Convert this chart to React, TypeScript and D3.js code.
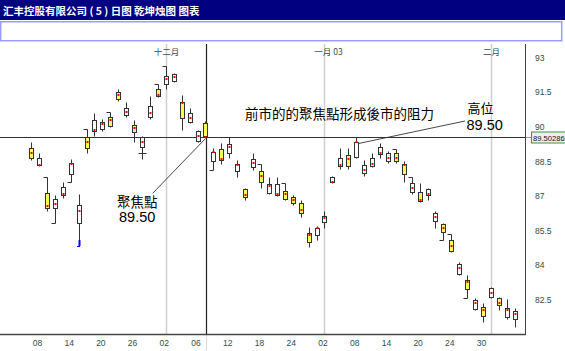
import React from "react";
import * as d3 from "d3";

const dates = [
  "11-07","11-08","11-11","11-12","11-13","11-14","11-15","11-18","11-19","11-20","11-21","11-22","11-25","11-26","11-27","11-28","11-29",
  "12-02","12-03","12-04","12-05","12-06","12-09","12-10","12-11","12-12","12-13","12-16","12-17","12-18","12-19","12-20","12-23","12-24","12-27","12-30","12-31",
  "01-02","01-03","01-06","01-07","01-08","01-09","01-10","01-13","01-14","01-15","01-16","01-17","01-20","01-21","01-22","01-23","01-24","01-27","01-28","01-29","01-30",
  "02-04","02-05","02-06","02-07",
];
const high = [89.26,88.78,87.74,86.96,87.53,88.52,87.01,89.83,90.52,90.26,90.56,91.56,91.0,90.22,89.52,91.26,91.78,92.56,92.25,91.3,90.74,89.78,90.17,89.0,89.22,89.48,88.48,87.27,88.78,88.31,87.74,87.74,87.48,86.96,86.75,85.57,85.62,86.27,87.79,89.0,89.0,89.5,88.48,88.78,89.22,88.87,88.96,88.44,87.74,87.48,87.27,86.27,85.75,85.27,84.06,83.49,82.49,82.28,82.97,82.54,82.45,82.06];
const low = [88.48,88.22,86.27,85.75,86.83,87.53,84.75,88.78,89.52,89.74,89.91,91.04,90.35,89.26,88.52,90.26,91.22,91.56,91.86,89.78,90.09,89.26,89.48,88.05,88.31,88.57,87.74,86.75,88.05,87.27,87.01,86.92,86.75,86.53,86.01,84.71,85.01,85.53,87.48,88.09,88.09,88.57,87.79,88.18,88.57,88.35,88.35,87.53,87.01,86.66,86.75,85.53,85.01,84.49,83.49,82.49,81.97,81.45,82.5,81.97,81.58,81.23];
const boxHigh = [89.0,88.57,87.05,86.79,87.31,88.35,86.53,89.48,90.22,90.13,90.35,91.43,90.74,90.0,89.48,90.82,91.56,92.12,92.21,91.0,90.52,89.74,90.09,88.83,88.96,89.17,88.31,87.22,88.52,88.0,87.44,87.44,87.14,86.88,86.62,85.31,85.53,86.05,87.74,88.57,88.7,89.26,88.26,88.57,89.04,88.78,88.78,88.31,87.48,87.09,87.22,86.18,85.7,85.01,83.97,83.27,82.41,82.1,82.93,82.49,82.06,81.93];
const boxLow = [88.57,88.26,86.4,86.4,86.96,87.87,85.75,89.0,89.74,89.83,89.96,91.13,90.43,89.7,89.04,90.35,91.26,91.78,91.91,90.3,90.13,89.3,89.52,88.44,88.48,88.78,88.0,86.88,88.18,87.53,87.05,86.96,86.79,86.62,86.18,84.92,85.23,85.79,87.53,88.22,88.22,88.61,87.92,88.22,88.74,88.44,88.44,87.87,87.09,86.7,86.96,85.83,85.36,84.53,83.54,82.88,82.02,81.71,82.56,82.19,81.67,81.58];
const midDot = [88.8,88.26,86.5,86.57,87.01,88.31,86.27,89.26,89.78,90.04,90.22,91.3,90.56,89.87,89.26,90.52,91.3,91.99,92.08,90.95,90.3,89.52,89.5,88.83,88.52,89.04,88.26,86.96,88.35,87.79,87.35,87.01,87.01,86.75,86.31,85.23,85.53,85.96,87.53,88.26,88.52,89.24,88.05,88.31,88.78,88.57,88.57,88.26,87.27,86.75,87.01,86.01,85.53,84.75,83.8,83.19,82.28,81.97,82.71,82.28,81.97,81.8];
const fillKind = "YWYWWWWYWWYYWYWWYWWYWWYWYWWYWYWWYYYYWWWWYWWWWWYYWYWWYYWYWYWY";
const tickKind: Record<string, string> = {
  "11-11": "tl", "11-12": "bl", "11-14": "bl", "11-18": "tl", "11-21": "tl", "11-29": "tl", "12-02": "tl",
  "12-10": "bl", "12-18": "tl", "12-23": "tl", "01-15": "tl", "01-17": "tl", "01-23": "bl", "01-24": "tl", "01-28": "bl",
};
const crossMarks = [{ date: "11-27", value: 88.78 }];
const blueMark = { date: "11-15", from: 85.01, to: 84.75 };

const yTicks = [93, 91.5, 90, 88.5, 87, 85.5, 84, 82.5];
const xTickDates = ["11-08","11-14","11-20","11-26","12-02","12-06","12-12","12-18","12-24","01-02","01-08","01-14","01-20","01-24","01-30"];
const monthDates = ["12-02", "01-02", "02-04"];
const monthLabels = ["十二月", "一月 03", "二月"];
const focusDate = "12-09";
const focusValue = 89.5;
const lastValueLabel = "89.50286";
const resistDate = "01-08";
const titleText = "汇丰控股有限公司 ( 5 ) 日图 乾坤烛图 图表";

const W = 565, H = 351;
const plotLeft = 0, plotRight = 525, plotTop = 44, plotBottom = 334;

export default function App() {
  const x = d3.scalePoint<string>().domain(dates).range([31, 514.8]);
  const y = d3.scaleLinear().domain([82.5, 93]).range([297.9, 55.8]);
  const axisColor = "#2f4f4f";
  const cjk = "'Noto Sans CJK TC', 'Noto Sans CJK SC', sans-serif";
  const focusX = Math.round(x(focusDate)!) + 1.5;
  const lineY = Math.round(y(focusValue)) + 0.5;
  const rx = Math.round(x(resistDate)!);

  return (
    <svg width={W} height={H} style={{ position: "absolute", left: 0, top: 0, background: "#fff" }}
      fontFamily="'Liberation Sans', Arial, sans-serif">
      {/* title bar */}
      <rect x={0} y={0} width={W} height={20} fill="#000080" />
      <text x={3} y={14.5} fill="#fff" fontSize={10.5} fontWeight="bold" fontFamily="'Noto Sans CJK SC', sans-serif">{titleText}</text>
      <rect x={0.75} y={21.75} width={561} height={19} fill="#fff" stroke="#9d9dff" strokeWidth={1.5} />

      {/* month grid */}
      {monthDates.map((d, i) => {
        const gx = Math.round(x(d)!) + 0.5;
        const shift = monthLabels[i].length > 3 ? 4 : 0;
        return (
          <g key={d}>
            <line x1={gx} x2={gx} y1={plotTop} y2={plotBottom} stroke="#cfcfcf" strokeWidth={1.5} />
            <text x={gx + shift} y={55} textAnchor="middle" fontSize={8.5} fill={axisColor} fontFamily={cjk}>{monthLabels[i]}</text>
          </g>
        );
      })}

      {/* focus vertical line */}
      <line x1={focusX} x2={focusX} y1={plotTop} y2={plotBottom} stroke="#222" strokeWidth={1.2} />
      <line x1={focusX} x2={focusX} y1={plotBottom} y2={H} stroke="#ddd" strokeWidth={1} />

      {/* horizontal focus line */}
      <line x1={plotLeft} x2={plotRight} y1={lineY} y2={lineY} stroke="#333" strokeWidth={1} />
      <line x1={plotRight} x2={531} y1={lineY} y2={lineY} stroke="#999" strokeWidth={1} />

      {/* candles */}
      {dates.map((d, i) => {
        const cx = Math.round(x(d)!);
        const wx = cx + 0.5;
        const yTop = Math.round(y(boxHigh[i])) + 0.5;
        const yBot = Math.round(y(boxLow[i])) + 0.5;
        const yH = Math.round(y(high[i])) + 0.5;
        const yL = Math.round(y(low[i])) + 0.5;
        const t = tickKind[d];
        return (
          <g key={d}>
            <line x1={wx} x2={wx} y1={yH} y2={yL} stroke="#333" strokeWidth={1} />
            {t === "tl" && <line x1={wx - 4} x2={wx} y1={yH} y2={yH} stroke="#333" />}
            {t === "bl" && <line x1={wx - 4} x2={wx} y1={yL} y2={yL} stroke="#333" />}
            <rect x={cx - 1.5} y={yTop} width={4} height={Math.max(2, yBot - yTop)}
              fill={fillKind[i] === "Y" ? "#ffff5a" : "#ffffff"} stroke="#333" strokeWidth={1} />
            <rect x={cx - 0.5} y={Math.round(y(midDot[i])) - 1} width={2} height={2} fill="#ff0000" />
          </g>
        );
      })}
      {crossMarks.map((c) => {
        const cx = Math.round(x(c.date)!) + 0.5;
        const cy = Math.round(y(c.value)) + 0.5;
        return <line key={c.date} x1={cx - 4} x2={cx + 4} y1={cy} y2={cy} stroke="#333" />;
      })}
      <rect x={Math.round(x(blueMark.date)!) - 0.5} y={y(blueMark.from)} width={2}
        height={y(blueMark.to) - y(blueMark.from)} fill="#0000ff" />
      <line x1={Math.round(x(blueMark.date)!) - 2} x2={Math.round(x(blueMark.date)!) + 1}
        y1={y(blueMark.to) + 0.5} y2={y(blueMark.to) + 0.5} stroke="#0000ff" />

      {/* axes */}
      <line x1={plotRight + 0.5} x2={plotRight + 0.5} y1={plotTop} y2={plotBottom} stroke="#444" strokeWidth={1} />
      <line x1={plotLeft} x2={plotRight + 1} y1={plotBottom + 0.5} y2={plotBottom + 0.5} stroke="#444" strokeWidth={1.5} />
      {yTicks.map((v) => (
        <text key={v} x={535} y={y(v) + 5} fontSize={8.5} fill={axisColor}>{v}</text>
      ))}
      {xTickDates.map((d) => (
        <text key={d} x={x(d)! - 1.5} y={346} textAnchor="middle" fontSize={8.5} fill={axisColor}>{d.slice(3)}</text>
      ))}
      <rect x={531.5} y={lineY - 5.5} width={36} height={11} fill="#eeeeee" stroke="#3c963c" strokeWidth={1} />
      <text x={533} y={lineY + 3} fontSize={7.6} fill="#111">{lastValueLabel}</text>

      {/* annotations */}
      <line x1={focusX - 1} y1={lineY + 1} x2={152.7} y2={193.3} stroke="#333" strokeWidth={0.9} />
      <text x={117} y={206.5} fontSize={13.5} fill="#000" fontFamily={cjk}>聚焦點</text>
      <text x={119} y={222} fontSize={14.5} fill="#000">89.50</text>

      <text x={245} y={119} fontSize={13.5} fill="#000" fontFamily={cjk}>前市的的聚焦點形成後市的阻力</text>
      <line x1={rx + 3} y1={y(89.2)} x2={465} y2={121} stroke="#333" strokeWidth={0.9} />
      <text x={467.5} y={113} fontSize={13} fill="#000" fontFamily={cjk}>高位</text>
      <text x={466.5} y={129.5} fontSize={14.5} fill="#000">89.50</text>
    </svg>
  );
}
